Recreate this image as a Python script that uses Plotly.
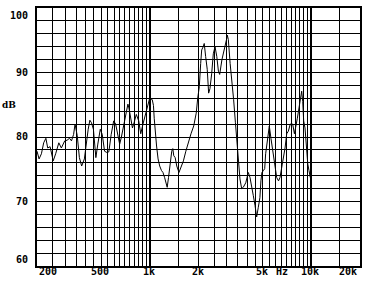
import math
import plotly.graph_objects as go

# Frequency response curve
freq_hz = [
    200, 206, 213, 220, 227, 233, 241, 252, 261, 273,
    283, 297, 307, 318, 327, 337, 344, 355, 366, 378,
    393, 404, 415, 425, 435, 447, 457, 463, 476, 493,
    507, 524, 541, 557, 576, 597, 614, 634, 650, 665,
    689, 714, 731, 742, 761, 780, 798, 824, 853, 878,
    906, 937, 973, 997, 1034, 1052, 1064, 1079, 1100, 1124,
    1150, 1180, 1205, 1234, 1262, 1280, 1304, 1335, 1366, 1386,
    1406, 1434, 1467, 1514, 1552, 1613, 1670, 1736, 1797, 1868,
    1936, 1977, 2023, 2063, 2093, 2140, 2170, 2214, 2265, 2311,
    2355, 2413, 2470, 2531, 2595, 2657, 2705, 2794, 2892, 2981,
    3015, 3060, 3140, 3221, 3300, 3386, 3437, 3490, 3527, 3612,
    3700, 3786, 3923, 4010, 4068, 4169, 4270, 4370, 4476, 4584,
    4692, 4800, 4870, 4940, 5052, 5140, 5210, 5360, 5488, 5618,
    5760, 5955, 6100, 6260, 6390, 6605, 6870, 7033, 7200, 7400,
    7660, 7850, 8000, 8185, 8380, 8585, 8710, 8840, 8960, 9130,
    9320, 9500, 9665, 9850,
]
level_db = [
    77.8, 76.6, 77.4, 79.1, 79.8, 78.3, 78.5, 76.3, 77.4, 79.1,
    78.3, 79.4, 79.5, 79.8, 79.4, 80.4, 82.0, 80.2, 76.8, 75.5,
    76.6, 79.1, 81.2, 82.6, 82.2, 81.2, 77.8, 76.8, 78.9, 81.2,
    80.4, 77.8, 77.6, 77.7, 80.4, 82.5, 82.0, 80.4, 78.9, 79.9,
    82.0, 84.0, 85.1, 84.5, 82.5, 81.4, 82.2, 83.5, 82.5, 80.5,
    82.0, 83.5, 85.1, 86.0, 85.8, 84.9, 82.9, 80.6, 78.6, 76.6,
    75.5, 74.8, 74.5, 73.7, 72.9, 72.2, 73.7, 76.0, 77.8, 78.2,
    77.1, 76.8, 75.5, 74.5, 75.1, 76.3, 77.8, 79.4, 80.5, 81.7,
    83.7, 86.0, 87.8, 91.4, 93.5, 94.0, 94.5, 92.5, 90.5, 86.8,
    87.5, 89.8, 92.9, 94.0, 92.5, 90.2, 89.7, 92.0, 93.5, 95.1,
    95.8, 95.1, 91.4, 88.9, 85.8, 82.2, 80.2, 77.1, 75.5, 73.5,
    72.0, 72.2, 72.9, 73.7, 74.5, 73.7, 72.5, 70.9, 69.4, 67.6,
    69.1, 70.6, 73.2, 74.5, 74.8, 75.1, 77.4, 79.8, 81.7, 79.8,
    77.8, 75.8, 73.7, 73.2, 73.7, 75.8, 78.3, 80.5, 80.9, 82.0,
    82.0, 80.5, 81.4, 82.9, 84.5, 86.0, 87.1, 85.5, 82.5, 81.4,
    78.3, 75.8, 74.8, 73.7,
]

# Grid and labels
x_grid = list(range(200, 1000, 50)) + list(range(1000, 10000, 500)) + [10000, 15000, 20000]
x_bold_grid = [1000, 10000]
y_grid = list(range(60, 101, 2))
x_label_text = ["200", "500", "1k", "2k", "5k", "Hz", "10k", "20k"]
x_label_freq = [200, 500, 1000, 2000, 5000, 6700, 10000, 20000]
y_label_text = ["100", "90", "80", "70", "60"]
y_label_vals = [100, 90, 80, 70, 60]
unit_label = "dB"

x_min, x_max = 200, 20000
y_min, y_max = 60, 100
FONT = dict(family="DejaVu Sans Mono", size=10, color="black")

fig = go.Figure()
fig.add_trace(go.Scatter(
    x=freq_hz, y=level_db, mode="lines",
    line=dict(color="black", width=1),
    xaxis="x2", yaxis="y", showlegend=False, hoverinfo="skip",
))

annotations = []
for txt, f in zip(x_label_text, x_label_freq):
    anchor = "center"
    shift = -1
    if f == x_min:
        anchor, shift = "left", 0
    elif f == x_max:
        anchor, shift = "right", -1
    annotations.append(dict(
        text="<b>%s</b>" % txt, x=math.log10(f), xref="x", y=0, yref="paper",
        xanchor=anchor, yanchor="middle", yshift=-5, xshift=shift,
        showarrow=False, font=FONT,
    ))
for txt, v in zip(y_label_text, y_label_vals):
    ys = 0
    if v == y_max:
        ys = -7
    elif v == y_min:
        ys = 7
    elif v == 80:
        ys = 1
    annotations.append(dict(
        text="<b>%s</b>" % txt, x=0, xref="paper", y=v, yref="y",
        xanchor="right", yanchor="middle", xshift=-7, yshift=ys,
        showarrow=False, font=FONT,
    ))
annotations.append(dict(
    text="<b>%s</b>" % unit_label, x=0, xref="paper", y=85, yref="y",
    xanchor="center", yanchor="middle", xshift=-28,
    showarrow=False, font=dict(family="DejaVu Serif", size=9, color="black"),
))

log_range = [math.log10(x_min), math.log10(x_max)]
fig.update_layout(
    width=375, height=283,
    margin=dict(l=37, r=15, t=6, b=17),
    paper_bgcolor="white", plot_bgcolor="white",
    xaxis=dict(
        type="log", range=log_range, tickvals=x_grid, showticklabels=False,
        ticks="", showgrid=True, gridcolor="black", gridwidth=1,
        showline=True, linecolor="black", linewidth=1.5, mirror=True,
        zeroline=False, fixedrange=True,
    ),
    xaxis2=dict(
        type="log", range=log_range, overlaying="x", anchor="y",
        tickvals=x_bold_grid, showticklabels=False, ticks="",
        showgrid=True, gridcolor="black", gridwidth=2,
        showline=False, zeroline=False, fixedrange=True,
    ),
    yaxis=dict(
        range=[y_min, y_max], tickvals=y_grid, showticklabels=False, ticks="",
        showgrid=True, gridcolor="black", gridwidth=1,
        showline=True, linecolor="black", linewidth=1.5, mirror=True,
        zeroline=False, fixedrange=True,
    ),
    annotations=annotations,
    showlegend=False,
)

fig.write_html("out.html")
